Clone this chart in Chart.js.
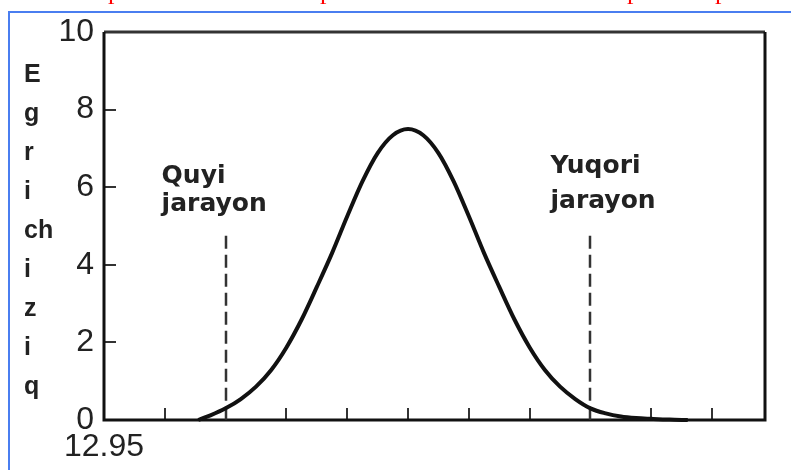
<!DOCTYPE html>
<html>
<head>
<meta charset="utf-8">
<script src="https://cdn.jsdelivr.net/npm/chart.js@4/dist/chart.umd.min.js"></script>
<style>
  html, body { margin: 0; padding: 0; background: #fff; }
  #wrap { width: 791px; height: 470px; }
</style>
</head>
<body>
<div id="wrap"><canvas id="c" width="791" height="470"></canvas></div>
<script>
// Distribution curve: position along the axis and height (Egri chiziq)
const curveX = [1.55, 1.75, 2.0, 2.25, 2.5, 2.75, 3.0, 3.25, 3.5, 3.75, 4.0, 4.25, 4.5, 4.75, 5.0,
                5.25, 5.5, 5.75, 6.0, 6.25, 6.5, 6.75, 7.0, 7.25, 7.5, 7.75, 8.0, 8.25, 8.5, 8.75, 9.0, 9.3, 9.6];
const curveY = [0.0, 0.12, 0.3, 0.54, 0.86, 1.29, 1.87, 2.59, 3.43, 4.3, 5.25, 6.15, 6.88, 7.34, 7.5,
                7.34, 6.88, 6.15, 5.25, 4.3, 3.43, 2.59, 1.87, 1.29, 0.86, 0.54, 0.3, 0.17, 0.09, 0.05, 0.03, 0.01, 0.0];

// Axis ticks and labels
const yTickValues = [0, 2, 4, 6, 8, 10];
const yTickLabels = ["0", "2", "4", "6", "8", "10"];
const xTickValues = [0];
const xTickLabels = ["12.95"];
const xMarkValues = [1, 2, 3, 4, 5, 6, 7, 8, 9, 10];
const yMarkValues = [2, 4, 6, 8];

// Vertical axis title, one letter group per line
const yTitleLetters = ["E", "g", "r", "i", "ch", "i", "z", "i", "q"];

// Lower and upper limits with their captions
const limitValues = [2, 8];
const limitTop = 4.75;
const limitCaptions = [["Quyi", "jarayon"], ["Yuqori", "jarayon"]];

const heading = ["p", "p", "p", "p"];

const decor = {
  id: 'decor',
  beforeDraw(chart) {
    const ctx = chart.ctx;
    ctx.save();
    ctx.fillStyle = '#fff';
    ctx.fillRect(0, 0, chart.width, chart.height);
    // blue page frame
    ctx.strokeStyle = '#4a7ef0';
    ctx.lineWidth = 2;
    ctx.beginPath();
    ctx.moveTo(9, 470); ctx.lineTo(9, 12); ctx.lineTo(791, 12);
    ctx.stroke();
    // heading line above, mostly out of view
    ctx.fillStyle = '#ff0000';
    ctx.font = '26px "Liberation Serif"';
    ctx.textBaseline = 'alphabetic';
    const hx = [108, 320, 627, 715];
    heading.forEach((t, i) => ctx.fillText(t, hx[i], -1));
    ctx.restore();
  },
  beforeDatasetsDraw(chart) {
    const ctx = chart.ctx, a = chart.chartArea;
    const xs = chart.scales.x, ys = chart.scales.y;
    ctx.save();
    // inward tick marks
    ctx.strokeStyle = '#333';
    ctx.lineWidth = 2;
    ctx.beginPath();
    xMarkValues.forEach(v => {
      const px = Math.round(xs.getPixelForValue(v));
      ctx.moveTo(px, a.bottom); ctx.lineTo(px, a.bottom - 12);
    });
    yMarkValues.forEach(v => {
      const py = Math.round(ys.getPixelForValue(v));
      ctx.moveTo(a.left, py); ctx.lineTo(a.left + 12, py);
    });
    ctx.stroke();
    // plot frame
    ctx.lineWidth = 3;
    ctx.strokeStyle = '#333';
    ctx.beginPath();
    ctx.moveTo(a.left, a.top); ctx.lineTo(a.right, a.top);
    ctx.stroke();
    ctx.strokeStyle = '#111';
    ctx.beginPath();
    ctx.moveTo(a.right, a.top); ctx.lineTo(a.right, a.bottom);
    ctx.lineTo(a.left, a.bottom); ctx.lineTo(a.left, a.top);
    ctx.stroke();
    // dashed limit lines
    ctx.strokeStyle = '#333';
    ctx.lineWidth = 2.5;
    ctx.setLineDash([13, 6]);
    limitValues.forEach(v => {
      const px = Math.round(xs.getPixelForValue(v));
      ctx.beginPath();
      ctx.moveTo(px, ys.getPixelForValue(limitTop));
      ctx.lineTo(px, a.bottom);
      ctx.stroke();
    });
    ctx.restore();
  },
  afterDatasetsDraw(chart) {
    const ctx = chart.ctx;
    const xs = chart.scales.x;
    ctx.save();
    ctx.fillStyle = '#222';
    ctx.textBaseline = 'alphabetic';
    ctx.textAlign = 'left';
    // captions over the limit lines
    ctx.font = 'bold 25px "DejaVu Sans"';
    const capLeft = [xs.getPixelForValue(limitValues[0]) - 64, xs.getPixelForValue(limitValues[1]) - 40];
    const capBase = [[183, 211], [173, 208]];
    limitCaptions.forEach((lines, i) => {
      lines.forEach((t, j) => ctx.fillText(t, capLeft[i], capBase[i][j]));
    });
    // stacked axis title
    ctx.fillStyle = '#222';
    ctx.font = 'bold 25px "Liberation Sans"';
    yTitleLetters.forEach((t, i) => ctx.fillText(t, 24, 82 + i * 39));
    ctx.restore();
  }
};

new Chart(document.getElementById('c'), {
  type: 'line',
  data: {
    datasets: [{
      data: curveX.map((x, i) => ({ x: x, y: curveY[i] })),
      borderColor: '#111',
      borderWidth: 4,
      pointRadius: 0,
      fill: false,
      tension: 0.4,
      cubicInterpolationMode: 'monotone',
      clip: false
    }]
  },
  options: {
    responsive: false,
    devicePixelRatio: 1,
    animation: false,
    layout: { padding: { left: 0, right: 26, top: 32, bottom: 0 } },
    plugins: { legend: { display: false }, tooltip: { enabled: false } },
    scales: {
      x: {
        type: 'linear',
        min: 0,
        max: 10.87,
        afterFit: s => { s.height = 50; },
        grid: { display: false },
        border: { display: false },
        ticks: {
          stepSize: 1,
          autoSkip: false,
          maxRotation: 0,
          padding: 0,
          color: '#222',
          font: { family: '"Liberation Sans"', size: 32 },
          callback: v => { const k = xTickValues.indexOf(v); return k >= 0 ? xTickLabels[k] : ''; }
        }
      },
      y: {
        min: 0,
        max: 10,
        afterFit: s => { s.width = 104; },
        grid: { display: false },
        border: { display: false },
        ticks: {
          stepSize: 2,
          padding: 2,
          color: '#222',
          font: { family: '"Liberation Sans"', size: 32 },
          callback: v => { const k = yTickValues.indexOf(v); return k >= 0 ? yTickLabels[k] : ''; }
        }
      }
    }
  },
  plugins: [decor]
});
</script>
</body>
</html>
